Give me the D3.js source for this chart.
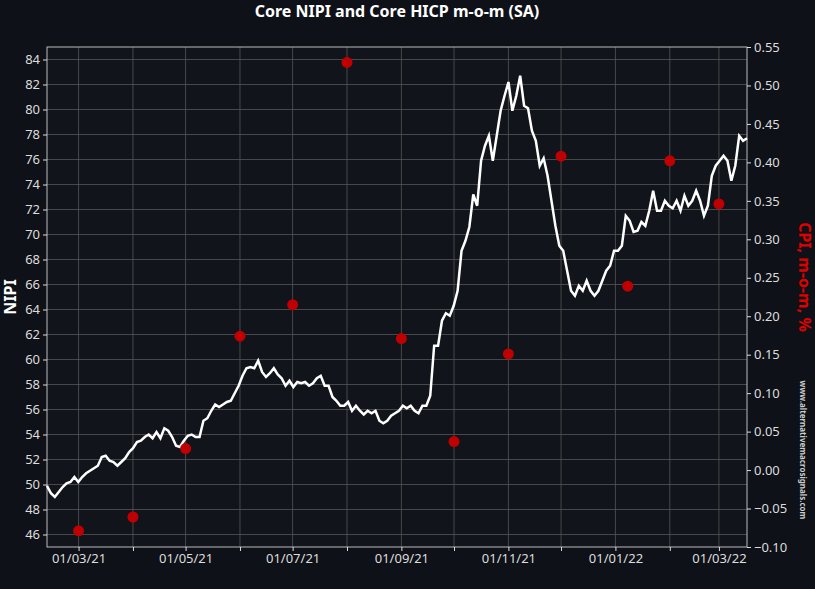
<!DOCTYPE html>
<html><head><meta charset="utf-8">
<script src="https://cdn.jsdelivr.net/npm/d3@7"></script>
<style>body{margin:0;background:#0e1117;}text{font-family:"Noto Sans",sans-serif;}</style>
</head><body><svg id="chart"></svg>
<script>
const startDate = new Date(2021, 1, 11), endDate = new Date(2022, 2, 17);
const nipiValues = [49.9,49.3,49.0,49.4,49.8,50.1,50.2,50.6,50.2,50.6,50.9,51.1,51.3,51.5,52.2,52.3,51.9,51.8,51.5,51.8,52.1,52.6,52.9,53.4,53.5,53.8,54.0,53.7,54.2,53.7,54.5,54.3,53.8,53.1,53.0,53.5,53.9,54.0,53.8,53.8,55.1,55.3,55.9,56.4,56.2,56.4,56.6,56.7,57.3,57.9,58.7,59.3,59.4,59.3,59.9,59.0,58.6,58.9,59.3,58.8,58.5,57.9,58.3,57.8,58.2,58.1,58.2,57.9,58.1,58.5,58.7,57.9,57.9,57.0,56.7,56.3,56.3,56.6,55.9,56.3,55.9,55.6,55.9,55.7,55.9,55.1,54.9,55.1,55.5,55.7,55.9,56.3,56.1,56.3,55.9,55.7,56.3,56.3,57.1,61.1,61.1,63.1,63.7,63.5,64.3,65.5,68.7,69.5,70.6,73.2,72.3,75.9,77.1,77.9,75.9,77.9,79.9,81.1,82.2,79.9,81.1,82.7,80.3,80.1,78.3,77.5,75.5,76.1,74.7,72.7,70.7,69.1,68.7,67.1,65.5,65.1,65.9,65.5,66.3,65.5,65.1,65.5,66.3,67.1,67.5,68.7,68.7,69.1,71.5,71.1,70.2,70.3,71.0,70.7,71.9,73.5,71.9,71.9,72.7,72.3,72.1,72.7,71.9,73.1,72.3,72.7,73.5,72.7,71.5,72.3,74.7,75.5,75.9,76.3,75.9,74.3,75.5,77.9,77.5,77.7];
const cpiDates = ["2021-03-01","2021-04-01","2021-05-01","2021-06-01","2021-07-01","2021-08-01","2021-09-01","2021-10-01","2021-11-01","2021-12-01","2022-01-08","2022-02-01","2022-03-01"];
const cpiValues = [-0.079,-0.061,0.028,0.174,0.215,0.530,0.171,0.037,0.151,0.408,0.239,0.402,0.346];
const leftTicks = d3.range(46, 85, 2);
const rightTicks = d3.range(-0.10, 0.551, 0.05);

const W = 815, H = 589, m = {l:47, r:68, t:47, b:42};
const svg = d3.select('#chart').attr('width', W).attr('height', H);
svg.append('rect').attr('width', W).attr('height', H).attr('fill', '#0e1117');

const x = d3.scaleTime().domain([startDate, endDate]).range([m.l, W - m.r]);
const yL = d3.scaleLinear().domain([45, 85]).range([H - m.b, m.t]);
const yR = d3.scaleLinear().domain([-0.1, 0.55]).range([H - m.b, m.t]);
const step = (endDate - startDate) / (nipiValues.length - 1);
const nipi = nipiValues.map((v, i) => ({d: new Date(+startDate + i * step), v}));
const cpi = cpiDates.map((d, i) => ({d: d3.timeParse("%Y-%m-%d")(d), v: cpiValues[i]}));

svg.append('rect').attr('x', m.l).attr('y', m.t).attr('width', W - m.l - m.r).attr('height', H - m.t - m.b).attr('fill', '#11141b');
const g = svg.append('g');
const months = d3.timeMonth.range(new Date(2021,2,1), endDate);
g.selectAll('.vg').data(months).join('line').attr('x1', d => x(d)).attr('x2', d => x(d))
  .attr('y1', m.t).attr('y2', H - m.b).attr('stroke', '#555').attr('stroke-width', 0.8);
g.selectAll('.hg').data(leftTicks).join('line').attr('x1', m.l).attr('x2', W - m.r)
  .attr('y1', d => yL(d)).attr('y2', d => yL(d)).attr('stroke', '#555').attr('stroke-width', 0.8);
svg.append('rect').attr('x', m.l).attr('y', m.t).attr('width', W - m.l - m.r).attr('height', H - m.t - m.b).attr('fill', 'none').attr('stroke', '#bbb');

function style(ax) {
  ax.selectAll('text').attr('fill', '#ddd').style('font-size', '13px');
  ax.selectAll('line').attr('stroke', '#ddd');
  ax.select('.domain').remove();
}
svg.append('g').attr('transform', `translate(${m.l},0)`)
  .call(d3.axisLeft(yL).tickValues(leftTicks).tickSize(4)).call(style);
svg.append('g').attr('transform', `translate(${W - m.r},0)`)
  .call(d3.axisRight(yR).tickValues(rightTicks).tickSize(4).tickFormat(d3.format('.2f'))).call(style);
svg.append('g').attr('transform', `translate(0,${H - m.b})`)
  .call(d3.axisBottom(x).tickValues(months).tickSize(4)
    .tickFormat(d => d.getMonth() % 2 === 0 ? d3.timeFormat('%d/%m/%y')(d) : '')).call(style);

svg.append('path').datum(nipi).attr('fill', 'none').attr('stroke', '#fff').attr('stroke-width', 2.5)
  .attr('d', d3.line().x(d => x(d.d)).y(d => yL(d.v)));
svg.selectAll('.dot').data(cpi).join('circle').attr('cx', d => x(d.d)).attr('cy', d => yR(d.v))
  .attr('r', 5.5).attr('fill', '#c00000');

svg.append('text').attr('x', (m.l + W - m.r) / 2).attr('y', 17).attr('text-anchor', 'middle')
  .attr('fill', '#fff').style('font-size', '16px').style('font-weight', 'bold').text('Core NIPI and Core HICP m-o-m (SA)');
svg.append('text').attr('transform', `translate(16,${(m.t + H - m.b) / 2}) rotate(-90)`).attr('text-anchor', 'middle')
  .attr('fill', '#fff').style('font-size', '16px').style('font-weight', 'bold').text('NIPI');
svg.append('text').attr('transform', `translate(799,${(m.t + H - m.b) / 2 - 20}) rotate(90)`).attr('text-anchor', 'middle')
  .attr('fill', '#e00000').style('font-size', '16px').style('font-weight', 'bold').text('CPI, m-o-m, %');
svg.append('text').attr('transform', `translate(800,450) rotate(90)`).attr('text-anchor', 'middle')
  .attr('fill', '#ccc').style('font-size', '8px').style('font-weight', 'bold').text('www.alternativemacrosignals.com');
</script></body></html>
